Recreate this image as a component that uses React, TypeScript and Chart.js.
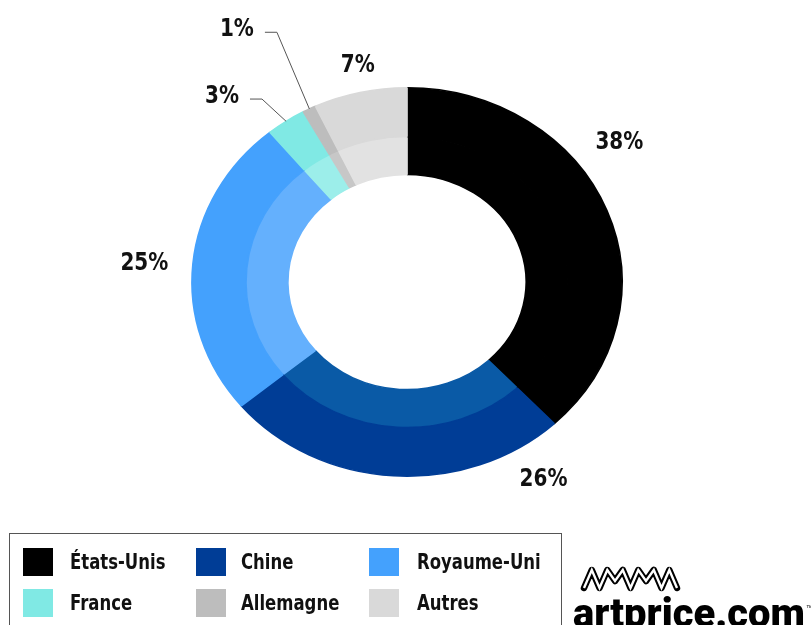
import React, { useEffect, useRef } from 'react';
import { Chart, registerables } from 'chart.js';
Chart.register(...registerables);

// ---- data ----
const countries = ['États-Unis', 'Chine', 'Royaume-Uni', 'France', 'Allemagne', 'Autres'];
const shares = [38, 26, 25, 3, 1, 7];
const outerColors = ['#000000', '#003d96', '#44a1fd', '#80e9e4', '#bdbdbd', '#d9d9d9'];
const innerColors = ['#000000', '#0a5aa6', '#64b0fd', '#9ceeea', '#c7c7c7', '#e2e2e2'];
// label placement: fraction along slice, distance from centre, leader line
const labelAlong = [0.395, 0.12, 0.49, 0.37, 1.0, 0.54];
const labelDist = [237, 233, 238, 225, 276, 221];
const labelLeader = [false, false, false, true, true, false];

const SX = 1.107; // horizontal stretch of the ring
const FONT = '"DejaVu Sans", sans-serif';

const stretchPlugin = {
  id: 'stretch',
  beforeDatasetsDraw(chart: any) {
    const arc = chart.getDatasetMeta(0).data[0];
    const ctx = chart.ctx;
    ctx.save();
    ctx.translate(arc.x, 0);
    ctx.scale(SX, 1);
    ctx.translate(-arc.x, 0);
  },
  afterDatasetsDraw(chart: any) {
    chart.ctx.restore();
  },
};

function narrowText(ctx: any, text: string, x: number, y: number, align: string) {
  ctx.save();
  ctx.translate(x, y);
  ctx.scale(0.8, 1);
  ctx.textAlign = align;
  ctx.textBaseline = 'middle';
  ctx.fillText(text, 0, 0);
  ctx.restore();
}

const labelPlugin = {
  id: 'pctLabels',
  afterDraw(chart: any) {
    const ctx = chart.ctx;
    const meta = chart.getDatasetMeta(0);
    ctx.save();
    ctx.font = `bold 25px ${FONT}`;
    ctx.fillStyle = '#111';
    ctx.strokeStyle = '#555';
    ctx.lineWidth = 1;
    meta.data.forEach((arc: any, i: number) => {
      const { x, y, startAngle, endAngle, outerRadius } = arc.getProps(
        ['x', 'y', 'startAngle', 'endAngle', 'outerRadius'],
        true
      );
      const a = startAngle + labelAlong[i] * (endAngle - startAngle);
      const lx = x + SX * labelDist[i] * Math.cos(a);
      const ly = y + labelDist[i] * Math.sin(a);
      const text = shares[i] + '%';
      if (labelLeader[i]) {
        const ma = (startAngle + endAngle) / 2;
        const sx = x + SX * outerRadius * Math.cos(ma);
        const sy = y + outerRadius * Math.sin(ma);
        ctx.beginPath();
        ctx.moveTo(sx, sy);
        ctx.lineTo(lx, ly);
        ctx.lineTo(lx - 12, ly);
        ctx.stroke();
        narrowText(ctx, text, lx - 23, ly - 3, 'right');
      } else {
        narrowText(ctx, text, lx, ly, 'center');
      }
    });
    ctx.restore();
  },
};

function Legend() {
  const cols = [
    { sw: 23, tx: 70 },
    { sw: 196, tx: 241 },
    { sw: 369, tx: 417 },
  ];
  const rows = [548, 589];
  return (
    <>
      <div
        style={{
          position: 'absolute',
          left: 9,
          top: 533,
          width: 553,
          height: 110,
          border: '1px solid #555',
          boxSizing: 'border-box',
        }}
      />
      {countries.map((c, i) => {
        const col = cols[i % 3];
        const top = rows[Math.floor(i / 3)];
        return (
          <React.Fragment key={c}>
            <div
              style={{
                position: 'absolute',
                left: col.sw,
                top,
                width: 30,
                height: 28,
                background: outerColors[i],
              }}
            />
            <div
              style={{
                position: 'absolute',
                left: col.tx,
                top,
                height: 28,
                lineHeight: '28px',
                fontFamily: FONT,
                fontWeight: 'bold',
                fontSize: 22,
                color: '#111',
                whiteSpace: 'nowrap',
                transform: 'scaleX(0.75)',
                transformOrigin: 'left center',
              }}
            >
              {c}
            </div>
          </React.Fragment>
        );
      })}
    </>
  );
}

function Logo() {
  const ys = [588, 570, 588, 570, 581, 570, 588, 570, 581, 570, 588, 570, 588];
  const zig = ys.map((y, k) => `${(584 + (k * 93) / 12).toFixed(1)},${y}`).join(' ');
  return (
    <svg
      width={251}
      height={75}
      style={{ position: 'absolute', left: 560, top: 550, overflow: 'visible' }}
      viewBox="560 550 251 75"
    >
      <polyline points={zig} fill="none" stroke="#000" strokeWidth={6.5} strokeLinejoin="round" strokeLinecap="round" />
      <polyline points={zig} fill="none" stroke="#fff" strokeWidth={2.4} strokeLinejoin="miter" strokeMiterlimit={4} strokeLinecap="butt" />
      <text
        x={573}
        y={627}
        fontFamily="Roboto, 'DejaVu Sans', sans-serif"
        fontWeight={900}
        fontSize={40}
        textLength={232}
        lengthAdjust="spacingAndGlyphs"
        fill="#000"
      >
        artprice.com
      </text>
      <text x={806} y={610} fontSize={7} fontFamily="sans-serif" fill="#000">
        ™
      </text>
    </svg>
  );
}

export default function App() {
  const ref = useRef<HTMLCanvasElement>(null);
  useEffect(() => {
    if (!ref.current) return;
    const chart = new Chart(ref.current, {
      type: 'doughnut',
      data: {
        labels: countries,
        datasets: [
          {
            data: shares,
            backgroundColor: outerColors,
            borderColor: outerColors,
            borderWidth: 1.5,
            weight: 49,
          } as any,
          {
            data: shares,
            backgroundColor: innerColors,
            borderColor: innerColors,
            borderWidth: 1.5,
            weight: 38,
          } as any,
        ],
      },
      options: {
        responsive: false,
        animation: false,
        devicePixelRatio: 1,
        events: [],
        cutout: '55.4%',
        layout: { padding: { top: 87, bottom: 148, left: 212, right: 209 } },
        plugins: { legend: { display: false }, tooltip: { enabled: false }, title: { display: false } },
      },
      plugins: [stretchPlugin, labelPlugin],
    });
    return () => chart.destroy();
  }, []);
  return (
    <div
      style={{
        position: 'absolute',
        left: 0,
        top: 0,
        width: 811,
        height: 625,
        overflow: 'hidden',
        background: '#fff',
      }}
    >
      <canvas ref={ref} width={811} height={625} style={{ position: 'absolute', left: 0, top: 0 }} />
      <Legend />
      <Logo />
    </div>
  );
}
